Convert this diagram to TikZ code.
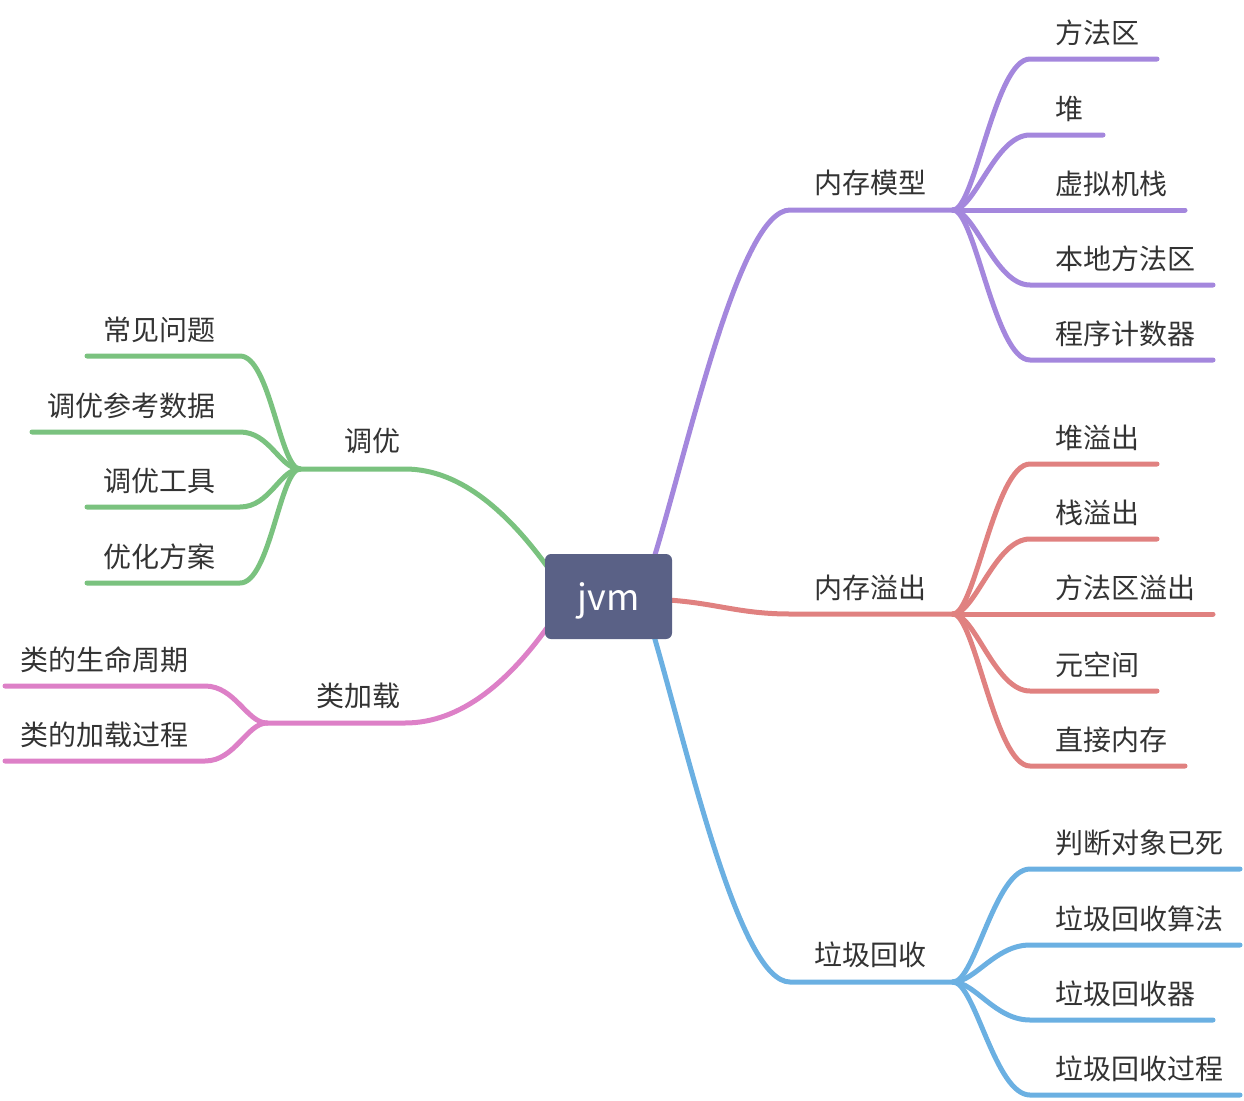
\documentclass[tikz,border=0pt]{standalone}
\usepackage{fontspec}
\newfontfamily\cjk{Noto Sans CJK SC}
\usetikzlibrary{calc}
\definecolor{cpurple}{HTML}{A487DD}
\definecolor{cred}{HTML}{E08180}
\definecolor{cblue}{HTML}{6BB0E2}
\definecolor{cgreen}{HTML}{7AC27F}
\definecolor{cpink}{HTML}{DD80C7}
\definecolor{rootfill}{HTML}{5A6186}
\definecolor{txt}{HTML}{333333}
\newcommand\leafR[6]{%
  \coordinate (#1s) at (1030,#4);
  \coordinate (#1e) at (#5,#4);
  \draw[conn,#2] (#3) .. controls ($(#3)+(22,0)$) and (995,#4) .. (#1s) -- (#1e);
  \node[lbl,anchor=west] (#1) at (1055,{#4-26}) {#6};
}
\newcommand\leafL[8]{% name, color, junction, y, start x, end x, text x (right), text
  \coordinate (#1s) at (#5,#4);
  \coordinate (#1e) at (#6,#4);
  \draw[conn,#2] (#3) .. controls ($(#3)+(-20,0)$) and ({#5+30},#4) .. (#1s) -- (#1e);
  \node[lbl,anchor=east] (#1) at (#7,{#4-26}) {#8};
}
\begin{document}
\begin{tikzpicture}[x=1pt,y=-1pt,
  conn/.style={line width=5pt, line cap=round},
  lbl/.style={font=\cjk\fontsize{28}{30}\selectfont, text=txt, inner sep=0pt}]
\useasboundingbox (0,0) rectangle (1244,1100);

% ---- main branch anchor points
\coordinate (mA) at (654,558);
\coordinate (mH) at (790,210);
\coordinate (mJ) at (953,210);
\coordinate (oA) at (668,600);
\coordinate (oH) at (790,614);
\coordinate (oJ) at (953,614);
\coordinate (gA) at (654,636);
\coordinate (gH) at (790,982);
\coordinate (gJ) at (953,982);
\coordinate (tA) at (549,569);
\coordinate (tH) at (405,469);
\coordinate (tJ) at (300,469);
\coordinate (lA) at (549,625);
\coordinate (lH) at (405,723);
\coordinate (lJ) at (267,723);

\draw[conn,cpurple] (mA) .. controls (690,440) and (740,210) .. (mH) -- (mJ);
\draw[conn,cred] (oA) .. controls (715,603) and (740,614) .. (oH) -- (oJ);
\draw[conn,cblue] (gA) .. controls (690,760) and (740,982) .. (gH) -- (gJ);
\draw[conn,cgreen] (tA) .. controls (510,515) and (462,469) .. (tH) -- (tJ);
\draw[conn,cpink] (lA) .. controls (510,680) and (462,723) .. (lH) -- (lJ);

\node[lbl] (mL) at (870,183) {内存模型};
\node[lbl] (oL) at (870,588) {内存溢出};
\node[lbl] (gL) at (870,955) {垃圾回收};
\node[lbl] (tL) at (372,441) {调优};
\node[lbl] (lL) at (358,696) {类加载};

% ---- purple leaves
\leafR{m1}{cpurple}{mJ}{59}{1157}{方法区}
\leafR{m2}{cpurple}{mJ}{135}{1103}{堆}
\leafR{m3}{cpurple}{mJ}{210}{1185}{虚拟机栈}
\leafR{m4}{cpurple}{mJ}{285}{1213}{本地方法区}
\leafR{m5}{cpurple}{mJ}{360}{1213}{程序计数器}

% ---- red leaves
\leafR{o1}{cred}{oJ}{464}{1157}{堆溢出}
\leafR{o2}{cred}{oJ}{539}{1157}{栈溢出}
\leafR{o3}{cred}{oJ}{614}{1213}{方法区溢出}
\leafR{o4}{cred}{oJ}{691}{1157}{元空间}
\leafR{o5}{cred}{oJ}{766}{1185}{直接内存}

% ---- blue leaves
\leafR{g1}{cblue}{gJ}{869}{1240}{判断对象已死}
\leafR{g2}{cblue}{gJ}{945}{1240}{垃圾回收算法}
\leafR{g3}{cblue}{gJ}{1020}{1213}{垃圾回收器}
\leafR{g4}{cblue}{gJ}{1095}{1240}{垃圾回收过程}

% ---- green leaves
\leafL{t1}{cgreen}{tJ}{356}{240}{87}{216}{常见问题}
\leafL{t2}{cgreen}{tJ}{432}{240}{32}{216}{调优参考数据}
\leafL{t3}{cgreen}{tJ}{507}{240}{87}{216}{调优工具}
\leafL{t4}{cgreen}{tJ}{583}{240}{87}{216}{优化方案}

% ---- pink leaves
\leafL{l1}{cpink}{lJ}{686}{205}{5}{189}{类的生命周期}
\leafL{l2}{cpink}{lJ}{761}{205}{5}{189}{类的加载过程}

% ---- root
\node[fill=rootfill, rounded corners=6pt, minimum width=127pt, minimum height=85pt,
  inner sep=0pt, text=white, text height=27pt, text depth=0pt,
  font=\cjk\fontsize{36}{40}\selectfont] (jvm) at (608.5,596.5) {jvm};
\end{tikzpicture}
\end{document}
